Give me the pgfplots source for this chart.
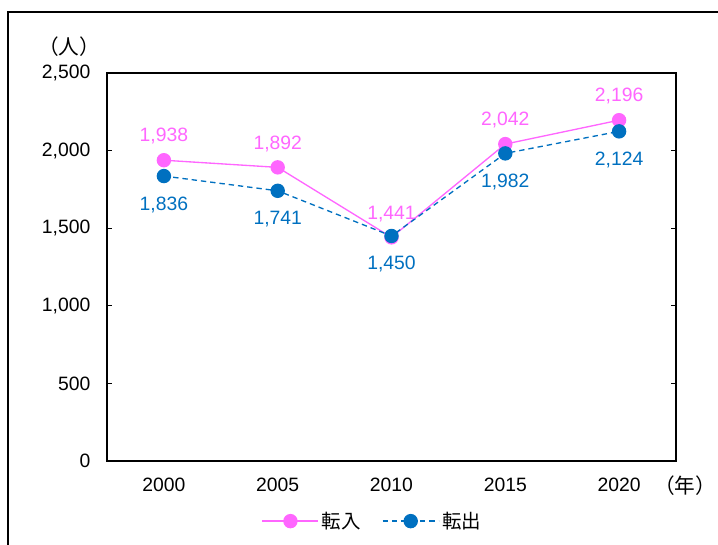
\documentclass[border=0pt]{standalone}
\usepackage{pgfplots}
\pgfplotsset{compat=1.18}
\usepackage{fontspec}
\setmainfont{Liberation Sans}
\newfontfamily\cjk{Noto Sans CJK JP}
\definecolor{pinkc}{HTML}{FF66FF}
\definecolor{bluec}{HTML}{0070C0}
\begin{document}
\begin{tikzpicture}
\path[use as bounding box] (0,0) rectangle (538.5pt,408pt);
\clip (0,0) rectangle (538.5pt,408pt);
\draw[line width=0.9pt] (6pt,399pt) rectangle (560pt,-20pt);
\begin{axis}[
  at={(80.25pt,62.25pt)}, anchor=south west,
  scale only axis, width=426.75pt, height=291pt,
  xmin=-0.5, xmax=4.5, ymin=0, ymax=2500,
  xtick={0,1,2,3,4}, xticklabels={2000,2005,2010,2015,2020},
  extra x ticks={0.5,1.5,2.5,3.5}, extra x tick labels={},
  extra x tick style={major tick length=4pt, tick style={black, line width=0.8pt}},
  ytick={0,500,1000,1500,2000,2500},
  axis line style={black, line width=1pt},
  tick align=inside, major tick length=4pt,
  xtick style={draw=none},
  ytick style={black, line width=0.8pt},
  ticklabel style={font=\fontsize{14.5pt}{16pt}\selectfont},
  /pgf/number format/assume math mode=true,
  /pgf/number format/.cd, 1000 sep={,}, fixed, precision=0,
  /pgfplots/.cd,
  yticklabel style={xshift=-9pt},
  xticklabel style={yshift=-9pt},
  clip=false,
  legend style={at={(0.467,-0.155)}, anchor=center, draw=none, fill=none,
    legend columns=2, font=\cjk\fontsize{14.6pt}{16pt}\selectfont,
    /tikz/every even column/.append style={column sep=14pt}},
  legend image code/.code={\draw[#1, mark repeat=2, mark phase=2] plot coordinates {(0pt,0pt) (21pt,0pt) (42pt,0pt)};},
  nodes near coords style={font=\fontsize{14.5pt}{16pt}\selectfont},
]
\addplot[pinkc, line width=1pt, mark=*, mark size=4.9pt, mark options={solid, fill=pinkc, draw=pinkc},
  nodes near coords, every node near coord/.append style={pinkc, anchor=south, yshift=8pt}]
 coordinates {(0,1938) (1,1892) (2,1441) (3,2042) (4,2196)};
\addlegendentry{転入}
\addplot[bluec, line width=1pt, dash pattern=on 4pt off 3pt, mark=*, mark size=4.9pt, mark options={solid, fill=bluec, draw=bluec},
  nodes near coords, every node near coord/.append style={bluec, anchor=north, yshift=-11.5pt}]
 coordinates {(0,1836) (1,1741) (2,1450) (3,1982) (4,2124)};
\addlegendentry{転出}
\end{axis}
\node[font=\cjk\fontsize{15.5pt}{17pt}\selectfont] at (51.75pt,372.75pt) {（人）};
\node[font=\cjk\fontsize{15.5pt}{17pt}\selectfont] at (513.75pt,43.5pt) {（年）};
\end{tikzpicture}
\end{document}
